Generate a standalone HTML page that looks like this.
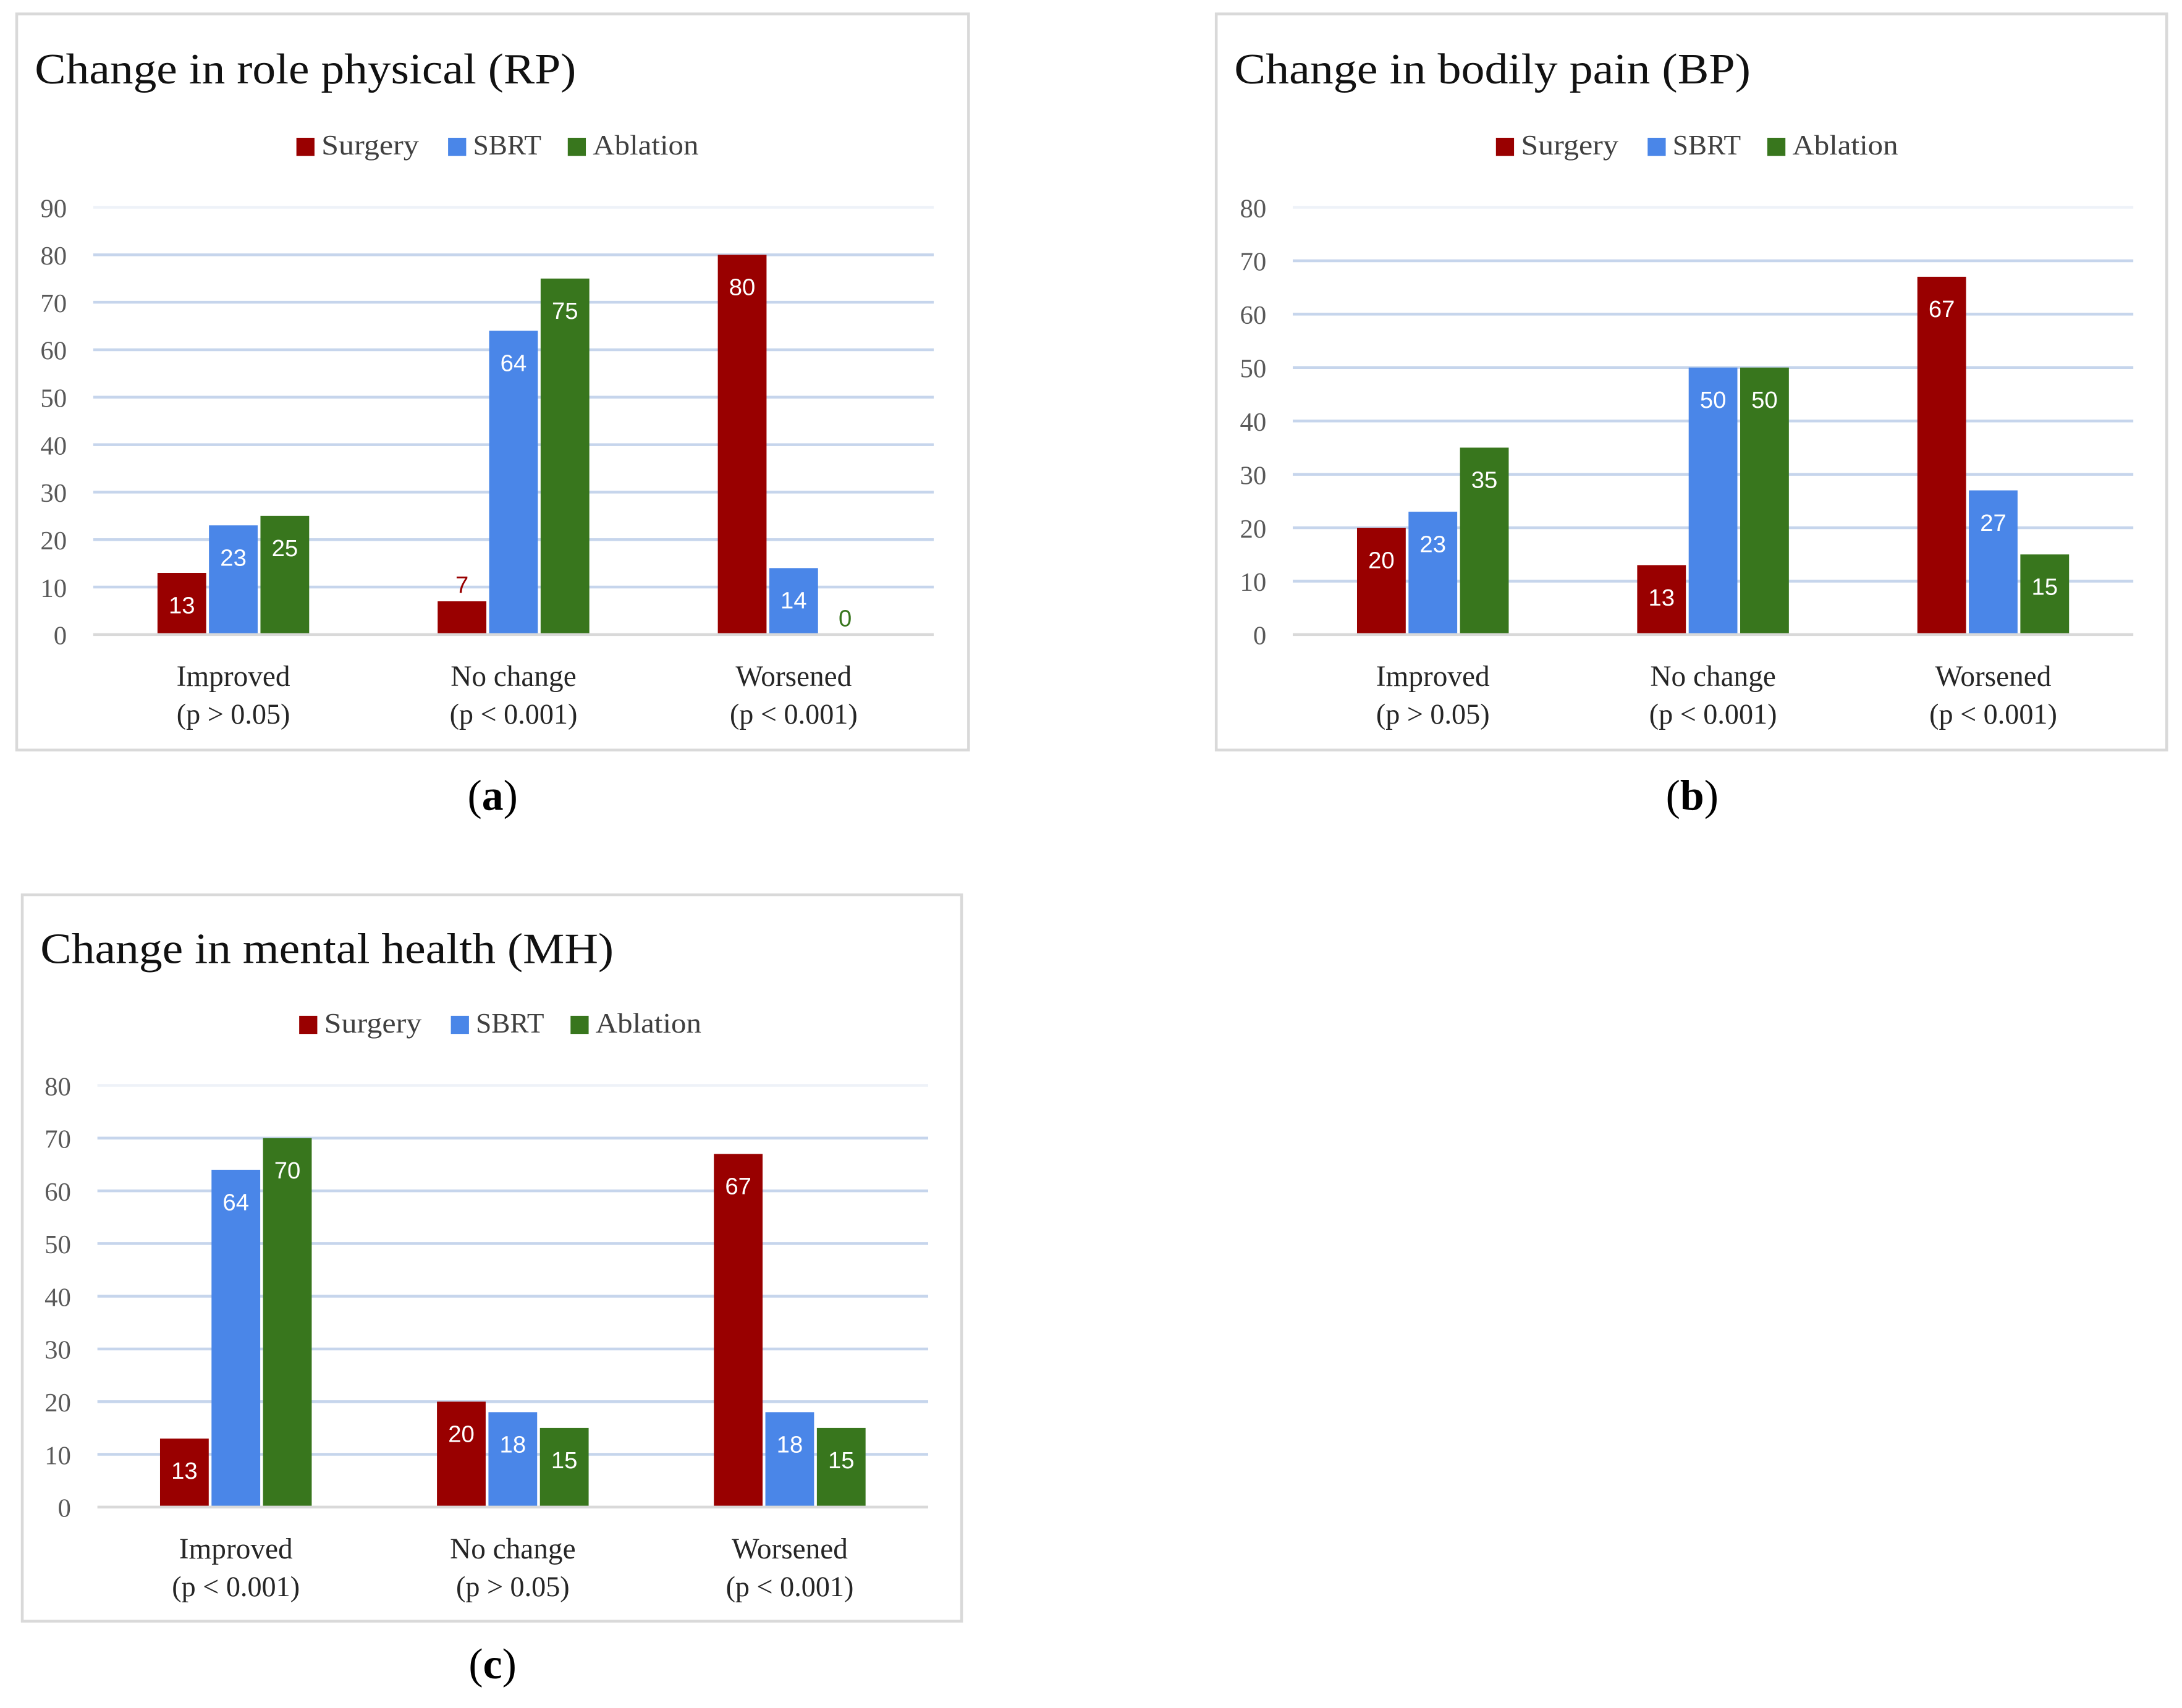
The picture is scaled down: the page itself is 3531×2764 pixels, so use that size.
<!DOCTYPE html>
<html><head><meta charset="utf-8">
<style>
html,body{margin:0;padding:0;background:#fff;}
svg{display:block;}
.ser{font-family:"Liberation Serif",serif;}
.tick{font-family:"Liberation Serif",serif;font-size:19px;fill:#595959;}
.val{font-family:"Liberation Sans",sans-serif;font-size:17px;}
</style></head>
<body>
<svg id="root" width="3531" height="2764" viewBox="0 0 1568 1227.4" xmlns="http://www.w3.org/2000/svg"></svg>
<script>
const seriesNames = ["Surgery","SBRT","Ablation"];
const colors = ["#990000","#4a86e8","#38761d"];
const catNames = ["Improved","No change","Worsened"];

const aTitle = "Change in role physical (RP)";
const aPvals = ["(p > 0.05)","(p < 0.001)","(p < 0.001)"];
const aSurgery = [13,7,80];
const aSBRT = [23,64,14];
const aAblation = [25,75,0];
const aTicks = [0,10,20,30,40,50,60,70,80,90];

const bTitle = "Change in bodily  pain (BP)";
const bPvals = ["(p > 0.05)","(p < 0.001)","(p < 0.001)"];
const bSurgery = [20,13,67];
const bSBRT = [23,50,27];
const bAblation = [35,50,15];
const bTicks = [0,10,20,30,40,50,60,70,80];

const cTitle = "Change in mental health (MH)";
const cPvals = ["(p < 0.001)","(p > 0.05)","(p < 0.001)"];
const cSurgery = [13,20,67];
const cSBRT = [64,18,18];
const cAblation = [70,15,15];
const cTicks = [0,10,20,30,40,50,60,70,80];

const NS="http://www.w3.org/2000/svg";
const root=document.getElementById('root');
function mk(tag,attrs,parent,text){const e=document.createElementNS(NS,tag);for(const k in attrs)e.setAttribute(k,attrs[k]);if(text!==undefined)e.textContent=text;(parent||root).appendChild(e);return e;}

const legendW=[70,49,76];
function panel(key,cfg,title,pvals,data,ticks){
  const g=mk('g',{});
  
  
  const fr=mk('rect',{x:cfg.bx,y:cfg.by,width:cfg.bw,height:cfg.bh,fill:'#fff',stroke:'#d9d9d9','stroke-width':2},g);
  
  
  const t=mk('text',{x:cfg.bx+13,y:cfg.ty,'font-size':31,fill:'#111',class:'ser',textLength:cfg.tw,lengthAdjust:'spacingAndGlyphs'},g,title);
  
  
  const lx=[cfg.lx,cfg.lx+109,cfg.lx+195];
  seriesNames.forEach((n,i)=>{
    const lg=mk('g',{},g);
    
    
    mk('rect',{x:lx[i],y:cfg.ly-11,width:13,height:13,fill:colors[i]},lg);
    mk('text',{x:lx[i]+18,y:cfg.ly+1,'font-size':20,fill:'#404040',class:'ser',textLength:legendW[i],lengthAdjust:'spacingAndGlyphs'},lg,n);
  });
  const maxT=ticks[ticks.length-1];
  const y=v=>cfg.y0-(v/maxT)*(cfg.y0-cfg.yTop);
  ticks.forEach(tv=>{
    if(tv>0){const l=mk('line',{x1:cfg.px0,x2:cfg.px1,y1:y(tv),y2:y(tv),stroke:tv===maxT?'#eef2f8':'#c6d5ec','stroke-width':2},g);
      
      }
    const tt=mk('text',{x:cfg.px0-19,y:y(tv)+7,'text-anchor':'end',class:'tick'},g,String(tv));
    
    
  });
  const bw=35,gap=2;
  const cw=(cfg.px1-cfg.px0)/3;
  catNames.forEach((c,ci)=>{
    const cx=cfg.px0+cw*(ci+0.5);
    data.forEach((ser,si)=>{
      const v=ser[ci];
      const x=cx-bw*1.5-gap+si*(bw+gap);
      const r=mk('rect',{x:x,y:y(v),width:bw,height:cfg.y0-y(v),fill:colors[si]},g);
      
      
      const h=cfg.y0-y(v);
      const inside=h>30;
      const lb=mk('text',{x:x+bw/2,y:inside?y(v)+29:y(v)-6,'text-anchor':'middle',class:'val',fill:inside?'#fff':colors[si]},g,String(v));
      
      
    });
    const c1=mk('text',{x:cx,y:cfg.y0+37,'text-anchor':'middle','font-size':21,fill:'#262626',class:'ser'},g,c);
    
    
    const c2=mk('text',{x:cx,y:cfg.y0+64,'text-anchor':'middle','font-size':20.5,fill:'#262626',class:'ser'},g,pvals[ci]);
    
    
  });
  const ax=mk('line',{x1:cfg.px0,x2:cfg.px1,y1:cfg.y0,y2:cfg.y0,stroke:'#d9d9d9','stroke-width':2},g);
  
  
  const cap=mk('text',{x:cfg.capx,y:cfg.capy,'text-anchor':'middle','font-size':31,fill:'#000',class:'ser'},g);
  
  
  mk('tspan',{},cap,'(');mk('tspan',{'font-weight':'bold'},cap,key);mk('tspan',{},cap,')');
}

panel('a',{bx:12,by:10,bw:684,bh:529,ty:60,tw:389,lx:213,ly:110,y0:456,yTop:149,px0:67,px1:671,capx:354,capy:582},aTitle,aPvals,[aSurgery,aSBRT,aAblation],aTicks);
panel('b',{bx:874,by:10,bw:683,bh:529,ty:60,tw:371,lx:1075,ly:110,y0:456,yTop:149,px0:929,px1:1533,capx:1216,capy:582},bTitle,bPvals,[bSurgery,bSBRT,bAblation],bTicks);
panel('c',{bx:16,by:643,bw:675,bh:522,ty:692,tw:412,lx:215,ly:741,y0:1083,yTop:780,px0:70,px1:667,capx:354,capy:1206},cTitle,cPvals,[cSurgery,cSBRT,cAblation],cTicks);
</script>
</body></html>
